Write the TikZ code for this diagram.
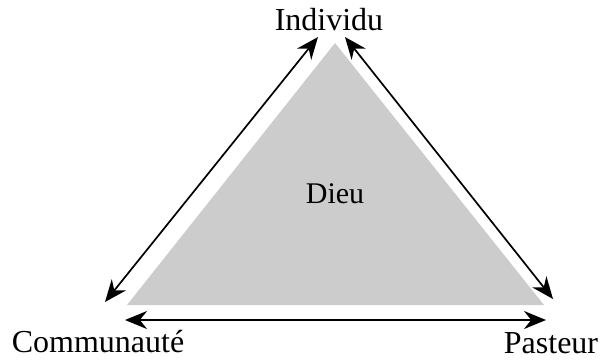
\documentclass[tikz,border=0pt]{standalone}
\usepackage{fontspec}
\setmainfont{Liberation Serif}
\usetikzlibrary{arrows.meta}
\begin{document}
\begin{tikzpicture}[x=0.5pt,y=-0.5pt,arrow/.style={line width=0.85pt,{Stealth[length=11pt,width=9pt]}-{Stealth[length=11pt,width=9pt]}},label node/.style={font=\fontsize{16}{18}\selectfont,inner sep=0pt,anchor=base},tri/.style={fill=black!20,draw=none}]
  \useasboundingbox (0,0) rectangle (603,360);

  % sommets du triangle
  \coordinate (top) at (335,43);
  \coordinate (bl) at (127,305);
  \coordinate (br) at (544,305);
  \fill[tri] (top) -- (bl) -- (br) -- cycle;

  \node[label node] (ind) at (329,30) {Individu};
  \node[label node] (com) at (98,352) {Communauté};
  \node[label node] (pas) at (551,353) {Pasteur};
  \node[label node,font=\fontsize{15}{18}\selectfont] (dieu) at (335,203) {Dieu};

  % extremites des fleches
  \coordinate (l1) at (318,37);
  \coordinate (l2) at (105,302);
  \coordinate (r1) at (345,37);
  \coordinate (r2) at (553,299);
  \coordinate (b1) at (125,320);
  \coordinate (b2) at (546,320);

  \draw[arrow] (l1) -- (l2);
  \draw[arrow] (r1) -- (r2);
  \draw[arrow] (b1) -- (b2);
\end{tikzpicture}
\end{document}
